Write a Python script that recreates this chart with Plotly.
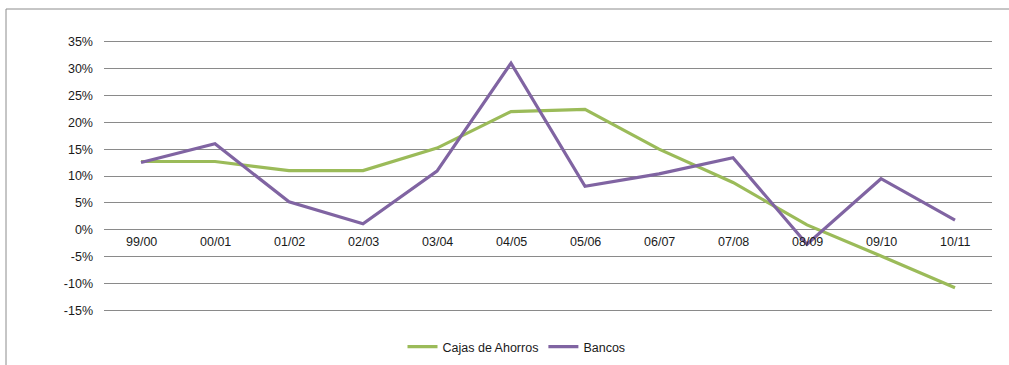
import plotly.graph_objects as go

# Temporadas y variaciones anuales (%)
temporadas = ["99/00", "00/01", "01/02", "02/03", "03/04", "04/05",
              "05/06", "06/07", "07/08", "08/09", "09/10", "10/11"]
cajas = [12.7, 12.7, 11.0, 11.0, 15.2, 22.0, 22.4, 15.0, 8.8, 0.9, -4.9, -10.8]
bancos = [12.5, 16.0, 5.2, 1.1, 10.9, 31.0, 8.1, 10.4, 13.4, -2.7, 9.5, 1.8]
y_ticks = [-15, -10, -5, 0, 5, 10, 15, 20, 25, 30, 35]

VERDE = "#9BBB59"
MORADO = "#8064A2"
FUENTE = "Liberation Sans, Arial, sans-serif"
TAM = 12.5

fig = go.Figure()
fig.add_trace(go.Scatter(x=temporadas, y=cajas, mode="lines", name="Cajas de Ahorros",
                         line=dict(color=VERDE, width=3.2)))
fig.add_trace(go.Scatter(x=temporadas, y=bancos, mode="lines", name="Bancos",
                         line=dict(color=MORADO, width=3.2)))

# Etiquetas de categoría junto a la línea del 0%
for t in temporadas:
    fig.add_annotation(x=t, y=0, xref="x", yref="y", text=t, showarrow=False,
                       yanchor="top", yshift=-3, font=dict(family=FUENTE, size=TAM, color="#1a1a1a"))

L, R, T, B = 104, 17, 39, 52
W, H = 1009, 365
pw, ph = W - L - R, H - T - B

# Marco exterior del gráfico
fig.add_shape(type="rect", xref="paper", yref="paper",
              x0=(6 - L) / pw, x1=(W + 5 - L) / pw,
              y0=(H - B - (H + 5)) / ph, y1=(H - B - 9) / ph,
              line=dict(color="#8c8c8c", width=1), fillcolor="rgba(0,0,0,0)", layer="below")

fig.update_layout(
    width=W, height=H,
    margin=dict(l=L, r=R, t=T, b=B, autoexpand=False),
    paper_bgcolor="white", plot_bgcolor="white",
    font=dict(family=FUENTE, size=TAM, color="#1a1a1a"),
    showlegend=True,
    legend=dict(orientation="h", xref="container", x=(W / 2 + 12) / W, xanchor="center",
                yref="container", y=(H - 347) / H, yanchor="middle",
                font=dict(family=FUENTE, size=TAM, color="#1a1a1a"),
                bgcolor="rgba(0,0,0,0)"),
    xaxis=dict(showticklabels=False, showgrid=False, zeroline=False, showline=False,
               ticks="", range=[-0.5, len(temporadas) - 0.5]),
    yaxis=dict(range=[-15.5, 35.5], tickvals=y_ticks,
               ticktext=[f"{v}%" for v in y_ticks],
               showgrid=True, gridcolor="#8a8a8a", gridwidth=1,
               zeroline=False, showline=False, ticks="", ticklabelstandoff=10,
               tickfont=dict(family=FUENTE, size=TAM, color="#1a1a1a")),
)

fig.write_html("out.html")
